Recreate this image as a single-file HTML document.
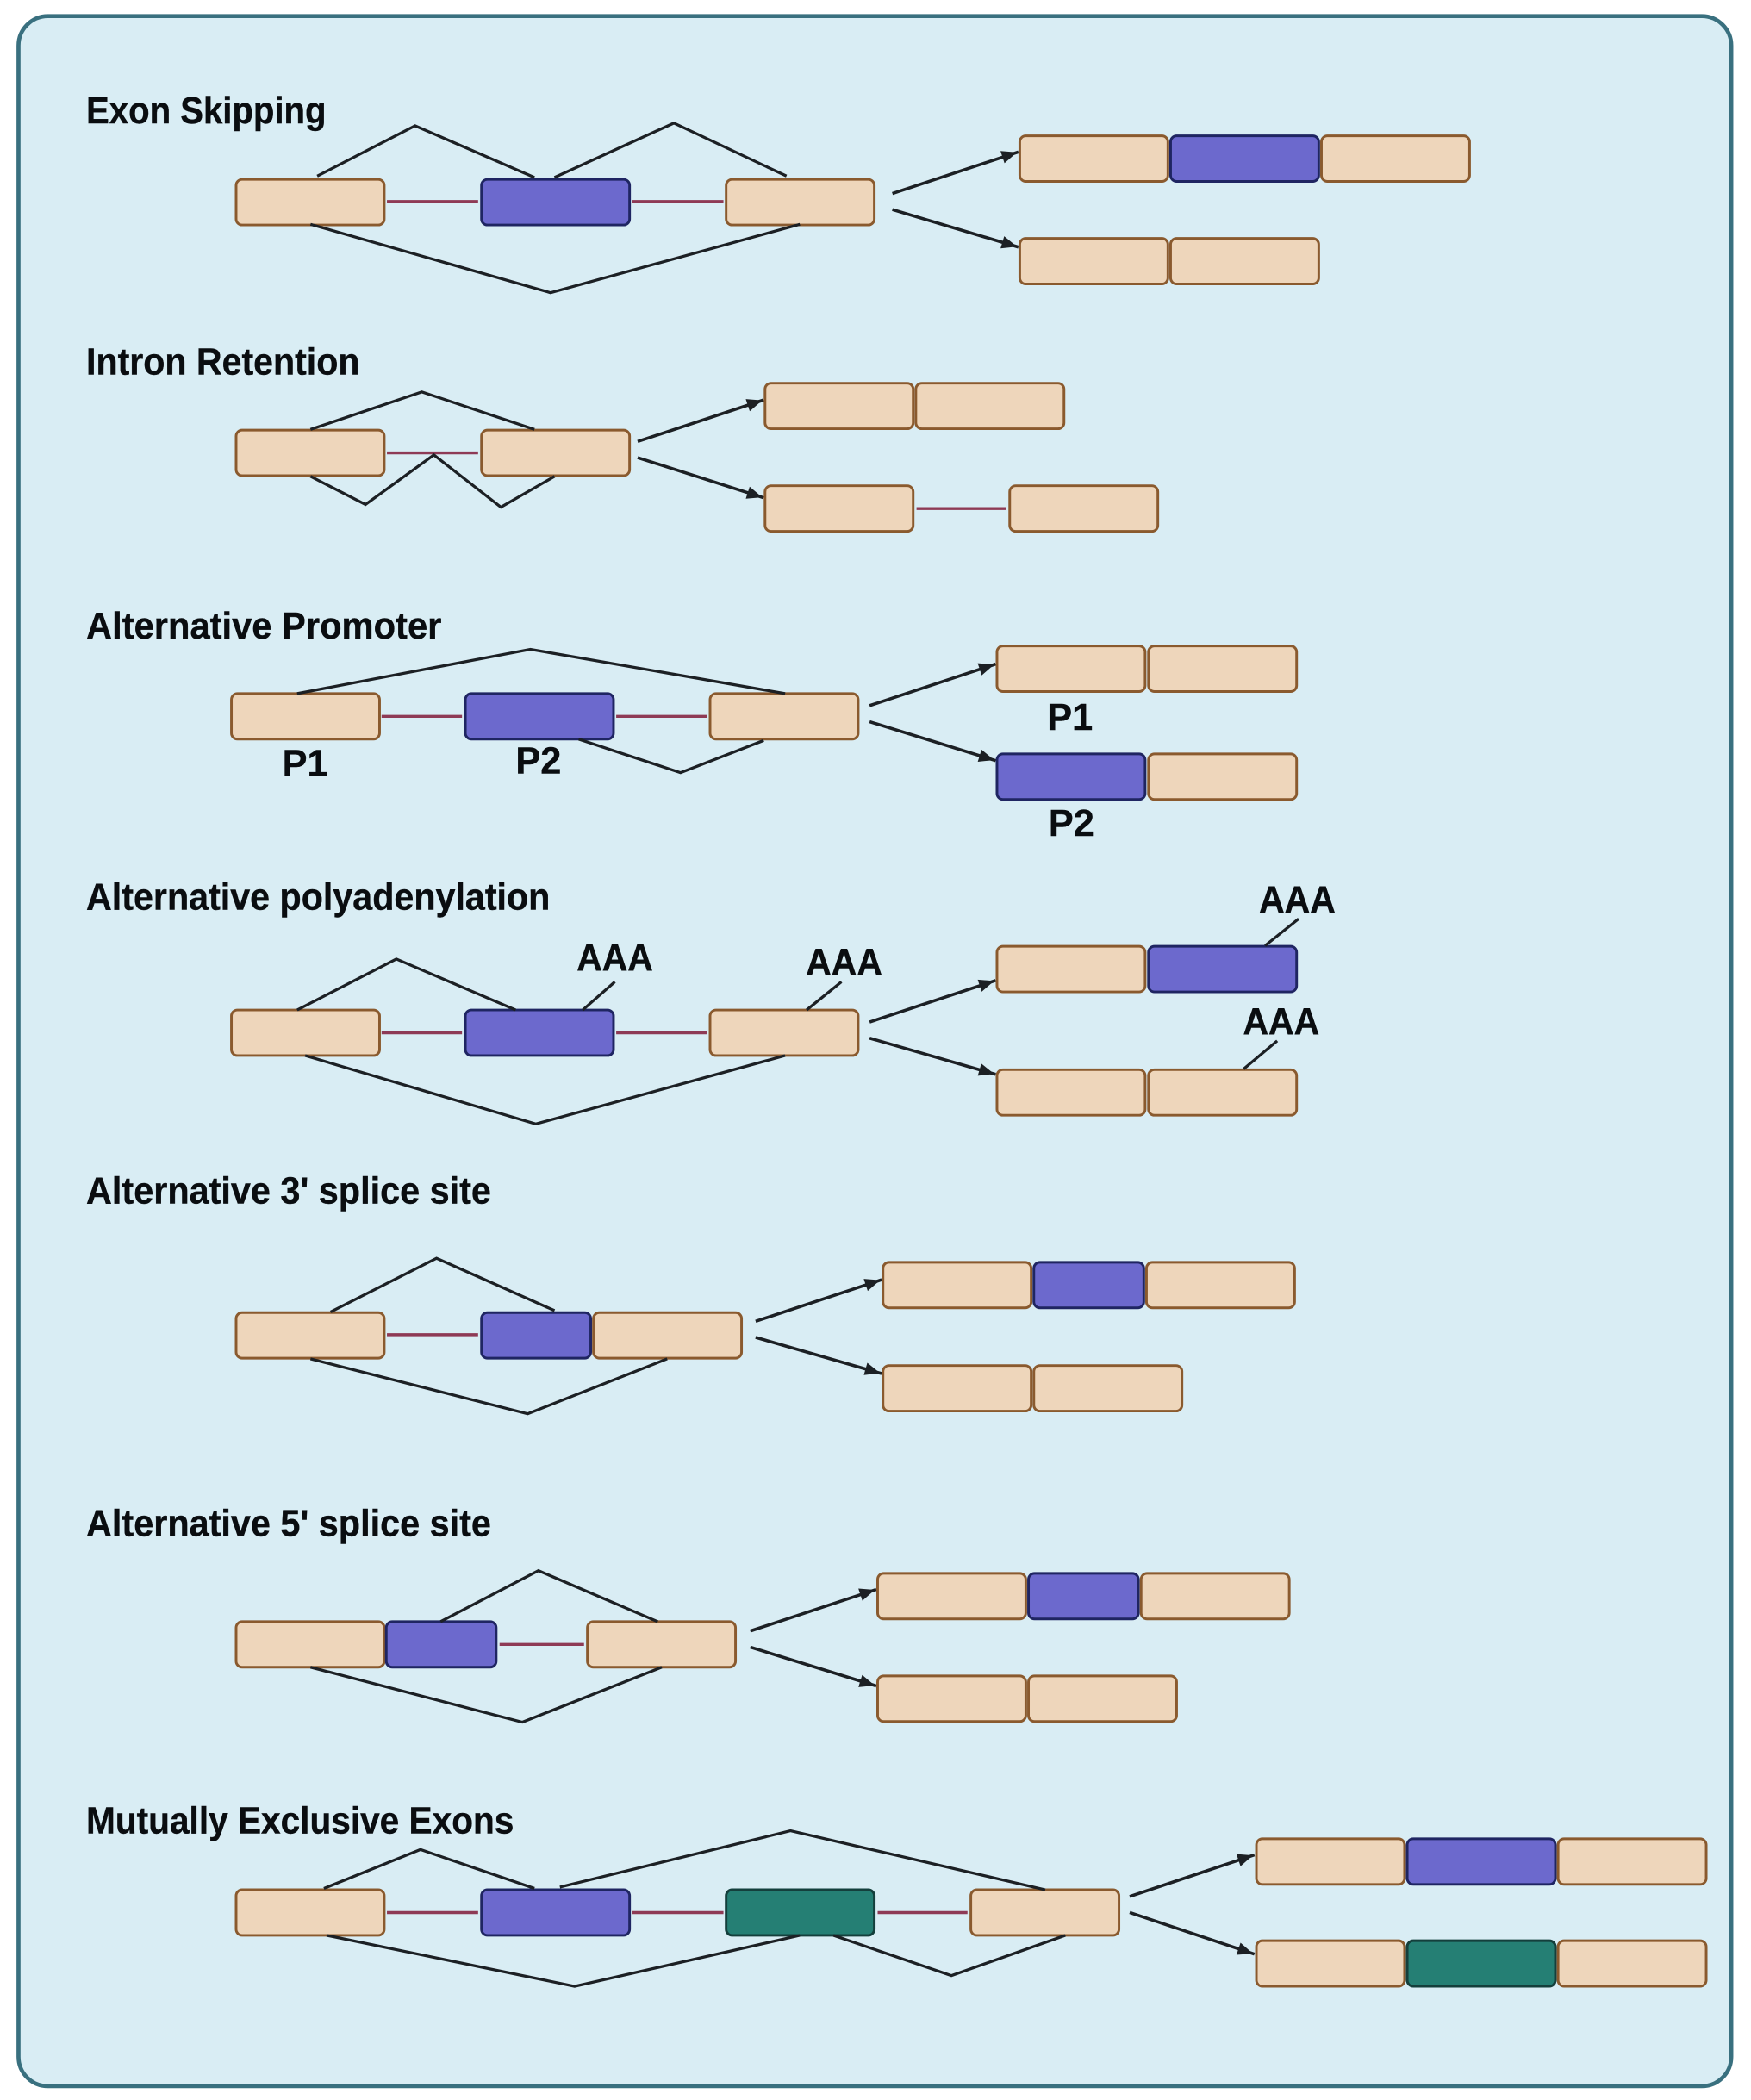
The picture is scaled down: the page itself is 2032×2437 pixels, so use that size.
<!DOCTYPE html>
<html lang="en"><head><meta charset="utf-8"><title>Alternative splicing types</title>
<style>
html,body{margin:0;padding:0;background:#fff;width:2032px;height:2437px;overflow:hidden}
svg{display:block}
text{font-family:"Liberation Sans",sans-serif;font-weight:bold;font-size:28px;fill:#0a0d10;stroke:#0a0d10;stroke-width:.25}
rect.e{fill:#eed6bb;stroke:#8a5a2e;stroke-width:1.9}
rect.p{fill:#6c69cd;stroke:#1f2562;stroke-width:1.9}
rect.t{fill:#257f74;stroke:#143f3c;stroke-width:1.9}
path.i{fill:none;stroke:#8e3a55;stroke-width:2.2}
path.l{fill:none;stroke:#1c2024;stroke-width:2.1;stroke-linejoin:miter}
path.a{fill:none;stroke:#1c2024;stroke-width:2.3;marker-end:url(#ah)}
</style></head><body>
<svg xmlns="http://www.w3.org/2000/svg" width="2032" height="2437" viewBox="0 0 1306 1566.3">
<defs>
<marker id="ah" viewBox="0 0 12 10" refX="15.500" refY="5" markerWidth="6" markerHeight="5" markerUnits="userSpaceOnUse" orient="auto" style="overflow:visible">
<path d="M0 0L12 5L0 10Z" fill="#1c2024" transform="scale(1.9)translate(-5 -2.4)"/>
</marker>
</defs>
<rect x="0" y="0" width="1306" height="1566.3" fill="#fff"/>
<rect x="13.8" y="12" width="1277.5" height="1544" rx="22" ry="22" fill="#d9edf4" stroke="#39707f" stroke-width="3"/>
<g transform="translate(-0.4 -0.7)">

<!-- Exon skipping -->
<text x="64.700" y="92.700" textLength="179" lengthAdjust="spacingAndGlyphs">Exon Skipping</text>
<path class="i" d="M289 151H357M472 151H540"/>
<rect class="e" x="176.500" y="134.500" width="110.500" height="34" rx="4.500"/>
<rect class="p" x="359.500" y="134.500" width="110.500" height="34" rx="4.500"/>
<rect class="e" x="542" y="134.500" width="110.500" height="34" rx="4.500"/>
<path class="l" d="M237 132L310 94.500L399 133M414 133L503 92.500L587 132M232 168L411 219L597 168"/>
<path class="a" d="M666 145L760 114"/><path class="a" d="M666 157L760 185"/>
<rect class="e" x="761" y="102" width="110.500" height="34" rx="4.500"/>
<rect class="p" x="873.500" y="102" width="110.500" height="34" rx="4.500"/>
<rect class="e" x="986" y="102" width="110.500" height="34" rx="4.500"/>
<rect class="e" x="761" y="178.500" width="110.500" height="34" rx="4.500"/>
<rect class="e" x="873.500" y="178.500" width="110.500" height="34" rx="4.500"/>

<!-- Intron retention -->
<text x="64.700" y="280" textLength="204" lengthAdjust="spacingAndGlyphs">Intron Retention</text>
<path class="i" d="M289 338.500H357"/>
<rect class="e" x="176.500" y="321.500" width="110.500" height="34" rx="4.500"/>
<rect class="e" x="359.500" y="321.500" width="110.500" height="34" rx="4.500"/>
<path class="l" d="M232 321L315 293L399 321M232 356L273 377L324 340L374 379L414 356"/>
<path class="a" d="M476 330L570 299"/><path class="a" d="M476 342L570 372"/>
<rect class="e" x="571" y="286.500" width="110.500" height="34" rx="4.500"/>
<rect class="e" x="683.500" y="286.500" width="110.500" height="34" rx="4.500"/>
<rect class="e" x="571" y="363" width="110.500" height="34" rx="4.500"/>
<path class="i" d="M684 380H751"/>
<rect class="e" x="753.500" y="363" width="110.500" height="34" rx="4.500"/>

<!-- Alternative promoter -->
<text x="64.700" y="477" textLength="265" lengthAdjust="spacingAndGlyphs">Alternative Promoter</text>
<path class="i" d="M285 535H345M460 535H528"/>
<rect class="e" x="173" y="518" width="110.500" height="34" rx="4.500"/>
<rect class="p" x="347.500" y="518" width="110.500" height="34" rx="4.500"/>
<rect class="e" x="530" y="518" width="110.500" height="34" rx="4.500"/>
<path class="l" d="M222 518L396 485L586 518M432 552L508 577L570 553"/>
<text x="228" y="579.500" text-anchor="middle" textLength="34" lengthAdjust="spacingAndGlyphs">P1</text>
<text x="402" y="577.500" text-anchor="middle" textLength="34" lengthAdjust="spacingAndGlyphs">P2</text>
<path class="a" d="M649 527L743 496"/><path class="a" d="M649 539L743 568"/>
<rect class="e" x="744" y="482.500" width="110.500" height="34" rx="4.500"/>
<rect class="e" x="857" y="482.500" width="110.500" height="34" rx="4.500"/>
<text x="798.500" y="545" text-anchor="middle" textLength="34" lengthAdjust="spacingAndGlyphs">P1</text>
<rect class="p" x="744" y="563" width="110.500" height="34" rx="4.500"/>
<rect class="e" x="857" y="563" width="110.500" height="34" rx="4.500"/>
<text x="799.500" y="624" text-anchor="middle" textLength="34" lengthAdjust="spacingAndGlyphs">P2</text>

<!-- Alternative polyadenylation -->
<text x="64.700" y="679" textLength="346" lengthAdjust="spacingAndGlyphs">Alternative polyadenylation</text>
<path class="i" d="M285 771H345M460 771H528"/>
<rect class="e" x="173" y="754" width="110.500" height="34" rx="4.500"/>
<rect class="p" x="347.500" y="754" width="110.500" height="34" rx="4.500"/>
<rect class="e" x="530" y="754" width="110.500" height="34" rx="4.500"/>
<path class="l" d="M222 754L296 716L385 754M228 788L400 839L586 788M435 754L459 733M602 754L628 733"/>
<text x="459" y="724.500" text-anchor="middle" textLength="57" lengthAdjust="spacingAndGlyphs">AAA</text>
<text x="630" y="727.500" text-anchor="middle" textLength="57" lengthAdjust="spacingAndGlyphs">AAA</text>
<path class="a" d="M649 763L743 732"/><path class="a" d="M649 775L743 802"/>
<rect class="e" x="744" y="706.500" width="110.500" height="34" rx="4.500"/>
<rect class="p" x="857" y="706.500" width="110.500" height="34" rx="4.500"/>
<rect class="e" x="744" y="798.500" width="110.500" height="34" rx="4.500"/>
<rect class="e" x="857" y="798.500" width="110.500" height="34" rx="4.500"/>
<path class="l" d="M944 706L969 686M928 798L953 777"/>
<text x="968" y="681" text-anchor="middle" textLength="57" lengthAdjust="spacingAndGlyphs">AAA</text>
<text x="956" y="772" text-anchor="middle" textLength="57" lengthAdjust="spacingAndGlyphs">AAA</text>

<g transform="translate(0 -0.8)">
<!-- Alternative 3' -->
<text x="64.700" y="899" textLength="302" lengthAdjust="spacingAndGlyphs">Alternative 3' splice site</text>
<path class="i" d="M289 997H357"/>
<rect class="e" x="176.500" y="980.500" width="110.500" height="34" rx="4.500"/>
<rect class="p" x="359.500" y="980.500" width="81.500" height="34" rx="4.500"/>
<rect class="e" x="443" y="980.500" width="110.500" height="34" rx="4.500"/>
<path class="l" d="M247 980L326 940L414 979M232 1015L394 1056L498 1015"/>
<path class="a" d="M564 987L658 956"/><path class="a" d="M564 999L658 1026"/>
<rect class="e" x="659" y="943" width="110.500" height="34" rx="4.500"/>
<rect class="p" x="771.500" y="943" width="82" height="34" rx="4.500"/>
<rect class="e" x="855.500" y="943" width="110.500" height="34" rx="4.500"/>
<rect class="e" x="659" y="1020" width="110.500" height="34" rx="4.500"/>
<rect class="e" x="771.500" y="1020" width="110.500" height="34" rx="4.500"/>

<!-- Alternative 5' -->
<text x="64.700" y="1147" textLength="302" lengthAdjust="spacingAndGlyphs">Alternative 5' splice site</text>
<path class="i" d="M373 1228H436"/>
<rect class="e" x="176.500" y="1211" width="110.500" height="34" rx="4.500"/>
<rect class="p" x="288.500" y="1211" width="82" height="34" rx="4.500"/>
<rect class="e" x="438.500" y="1211" width="110.500" height="34" rx="4.500"/>
<path class="l" d="M329 1211L402 1173L491 1211M232 1245L390 1286L494 1245"/>
<path class="a" d="M560 1218L654 1187"/><path class="a" d="M560 1230L654 1259"/>
<rect class="e" x="655" y="1175" width="110.500" height="34" rx="4.500"/>
<rect class="p" x="767.500" y="1175" width="82" height="34" rx="4.500"/>
<rect class="e" x="851.500" y="1175" width="110.500" height="34" rx="4.500"/>
<rect class="e" x="655" y="1251.500" width="110.500" height="34" rx="4.500"/>
<rect class="e" x="767.500" y="1251.500" width="110.500" height="34" rx="4.500"/>

<!-- Mutually exclusive -->
<text x="64.700" y="1369" textLength="319" lengthAdjust="spacingAndGlyphs">Mutually Exclusive Exons</text>
<path class="i" d="M289 1428H357M472 1428H540M655 1428H722"/>
<rect class="e" x="176.500" y="1411" width="110.500" height="34" rx="4.500"/>
<rect class="p" x="359.500" y="1411" width="110.500" height="34" rx="4.500"/>
<rect class="t" x="542" y="1411" width="110.500" height="34" rx="4.500"/>
<rect class="e" x="724.500" y="1411" width="110.500" height="34" rx="4.500"/>
<path class="l" d="M242 1410L314 1381L399 1410M418 1409L590 1367L780 1411M244 1445L429 1483L597 1445M622 1445L710 1475L795 1445"/>
<path class="a" d="M843 1416L936 1385"/><path class="a" d="M843 1428L936 1459"/>
<rect class="e" x="937.500" y="1373" width="110.500" height="34" rx="4.500"/>
<rect class="p" x="1050" y="1373" width="110.500" height="34" rx="4.500"/>
<rect class="e" x="1162.500" y="1373" width="110.500" height="34" rx="4.500"/>
<rect class="e" x="937.500" y="1449" width="110.500" height="34" rx="4.500"/>
<rect class="t" x="1050" y="1449" width="110.500" height="34" rx="4.500"/>
<rect class="e" x="1162.500" y="1449" width="110.500" height="34" rx="4.500"/>
</g>
</g>
</svg>
</body></html>
